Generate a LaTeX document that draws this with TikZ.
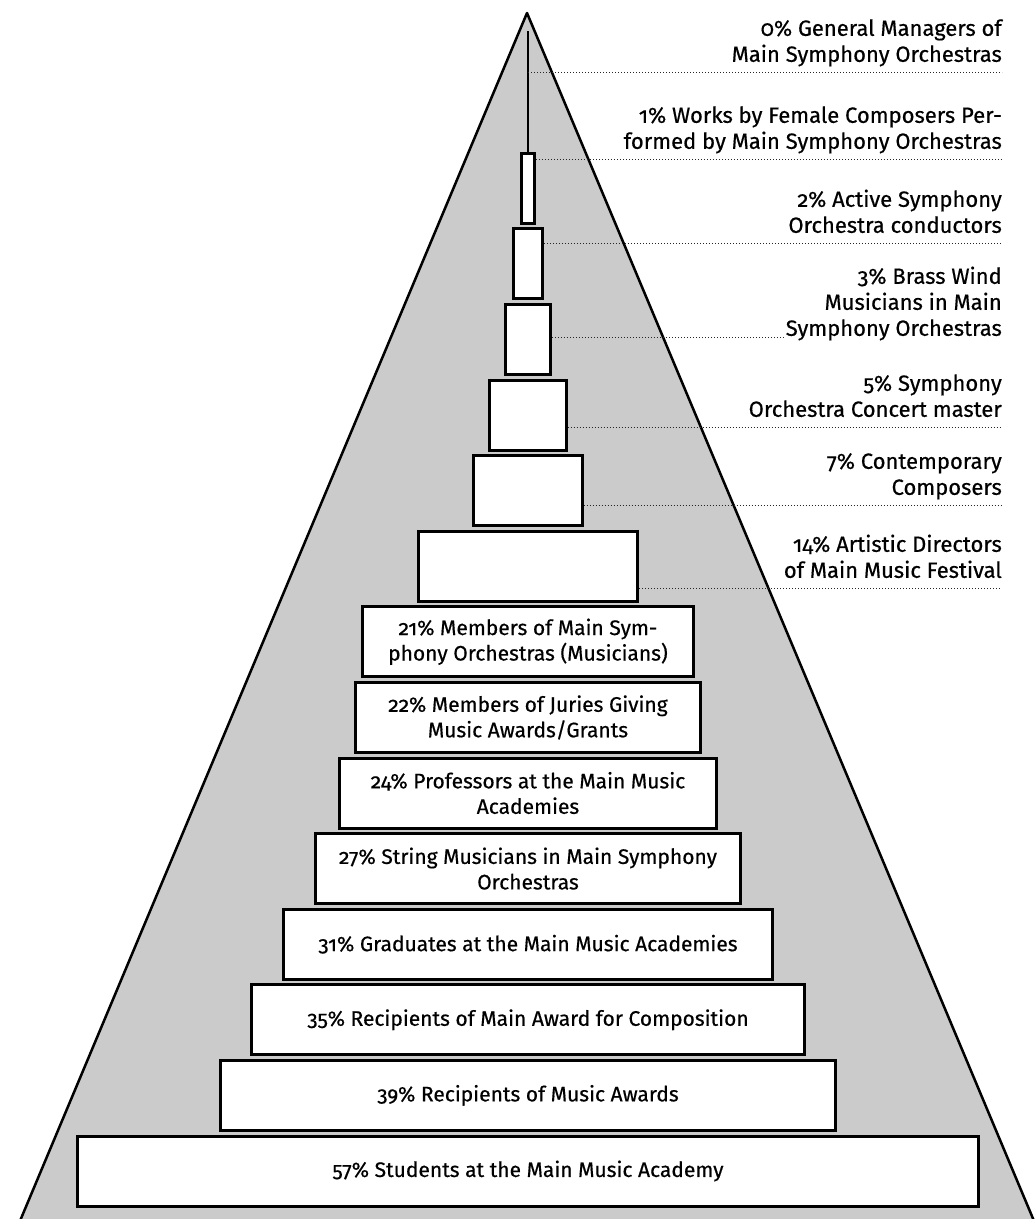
\documentclass[tikz,border=0pt]{standalone}
\usepackage{fontspec}
\setmainfont{Fira Sans}[Numbers=OldStyle, FakeBold=0.5]
\usepackage{tikz}
\usetikzlibrary{positioning}

\definecolor{pyramidgray}{HTML}{CBCBCB}

\begin{document}
\begin{tikzpicture}[
x=1pt, y=-1pt,
node distance=2.6pt,
font=\fontsize{21}{25.5}\selectfont,
tier/.style={draw, line width=3pt, fill=white, minimum height=70pt, inner sep=0pt, align=center, minimum width={#1*15.86pt-3pt}},
note/.style={anchor=south east, align=right, inner xsep=0pt, inner ysep=10pt, text depth=0pt, font=\fontsize{22}{26}\selectfont},
guide/.style={line width=1pt, dash pattern=on 1pt off 2pt, black!85}
]
\useasboundingbox (0,0) rectangle (1035,1219);
\clip (0,0) rectangle (1035,1219);

% pyramid
\coordinate (apex) at (527,13);
\coordinate (baseL) at (12,1240);
\coordinate (baseR) at (1042,1240);
\fill[pyramidgray] (apex) -- (baseL) -- (baseR) -- cycle;
\draw[line width=2.5pt, line join=round] (baseL) -- (apex) -- (baseR);

% tiers, bottom up
\node[tier=57] (t57) at (528,1171) {57\% Students at the Main Music Academy};
\node[tier=39, above=of t57] (t39) {39\% Recipients of Music Awards};
\node[tier=35, above=of t39] (t35) {35\% Recipients of Main Award for Composition};
\node[tier=31, above=of t35] (t31) {31\% Graduates at the Main Music Academies};
\node[tier=27, above=of t31] (t27) {27\% String Musicians in Main Symphony\\Orchestras};
\node[tier=24, above=of t27] (t24) {24\% Professors at the Main Music\\Academies};
\node[tier=22, above=of t24] (t22) {22\% Members of Juries Giving\\Music Awards/Grants};
\node[tier=21, above=of t22] (t21) {21\% Members of Main Sym-\\phony Orchestras (Musicians)};
\node[tier=14, above=of t21] (t14) {};
\node[tier=7, above=of t14] (t7) {};
\node[tier=5, above=of t7] (t5) {};
\node[tier=3, above=of t5] (t3) {};
\node[tier=2, above=of t3] (t2) {};
\node[tier=1, above=of t2] (t1) {};
\coordinate (tip) at (528,31);
\draw[line width=2.5pt] (t1.north) -- (tip);

% side notes
\node[note] (n0) at (1002,72) {0\% General Managers of\\Main Symphony Orchestras};
\node[note] (n1) at (1002,159) {1\% Works by Female Composers Per-\\formed by Main Symphony Orchestras};
\node[note] (n2) at (1002,243) {2\% Active Symphony\\Orchestra conductors};
\node[note] (n3) at (1002,346) {3\% Brass Wind\\Musicians in Main\\Symphony Orchestras};
\node[note] (n5) at (1002,427) {5\% Symphony\\Orchestra Concert master};
\node[note] (n7) at (1002,505) {7\% Contemporary\\Composers};
\node[note] (n14) at (1002,588) {14\% Artistic Directors\\of Main Music Festival};

\coordinate (g3) at (1002,337);
\draw[guide] (tip |- n0.south) -- (n0.south east);
\draw[guide] (t1.east |- n1.south) -- (n1.south east);
\draw[guide] (t2.east |- n2.south) -- (n2.south east);
\draw[guide] (t3.east |- g3) -- (n3.west |- g3);
\draw[guide] (t5.east |- n5.south) -- (n5.south east);
\draw[guide] (t7.east |- n7.south) -- (n7.south east);
\draw[guide] (t14.east |- n14.south) -- (n14.south east);
\end{tikzpicture}
\end{document}
